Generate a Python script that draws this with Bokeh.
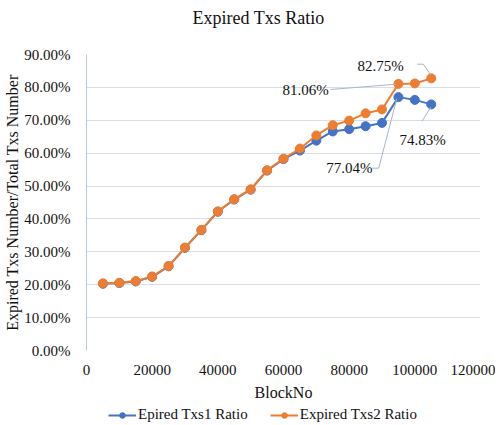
from bokeh.plotting import figure
from bokeh.layouts import column
from bokeh.models import (Range1d, NumeralTickFormatter, FixedTicker, Legend, LegendItem,
                          ColumnDataSource, LabelSet, Label)
from bokeh.core.properties import value
from bokeh.embed import file_html
from bokeh.resources import INLINE

# ---- data ----
block_no = [5000, 10000, 15000, 20000, 25000, 30000, 35000, 40000, 45000, 50000, 55000,
            60000, 65000, 70000, 75000, 80000, 85000, 90000, 95000, 100000, 105000]
ratio1 = [0.203, 0.205, 0.210, 0.224, 0.256, 0.312, 0.366, 0.422, 0.459, 0.489, 0.547,
          0.582, 0.608, 0.638, 0.666, 0.673, 0.682, 0.692, 0.7704, 0.762, 0.7483]
ratio2 = [0.204, 0.206, 0.211, 0.225, 0.257, 0.313, 0.367, 0.423, 0.460, 0.490, 0.548,
          0.583, 0.614, 0.654, 0.685, 0.699, 0.721, 0.733, 0.8106, 0.812, 0.8275]
series_names = ["Epired Txs1 Ratio", "Expired Txs2 Ratio"]
title_text = "Expired Txs Ratio"
x_label = "BlockNo"
y_label = "Expired Txs Number/Total Txs Number"
x_ticks = [0, 20000, 40000, 60000, 80000, 100000, 120000]
y_ticks = [0.0, 0.1, 0.2, 0.3, 0.4, 0.5, 0.6, 0.7, 0.8, 0.9]

# annotated points: (series, index), label offset (dx, dy), leader offsets
ann_series = [2, 2, 1, 1]
ann_index = [20, 18, 20, 18]
ann_dx = [-15450, -28300, -2600, -14900]
ann_dy = [0.038, -0.02, -0.107, -0.216]
lead_dx = [[-4300, -2400, -200], [-20700, -700], [-2800, -100], [-8000, -6000, -500]]
lead_dy = [[0.043, 0.043, 0.011], [-0.017, -0.001], [-0.051, -0.008], [-0.216, -0.216, -0.005]]

FONT = "Liberation Serif"
BLUE = "#4472C4"
ORANGE = "#ED7D31"
TXT = "#111111"
W = 495
FL, FR = 86, 480   # frame edges in page pixels (strips share the main frame's edges)

src = ColumnDataSource(dict(x=block_no, r1=ratio1, r2=ratio2))

# ---- title strip ----
pt = figure(width=W, height=34, output_backend="svg", toolbar_location=None,
            x_range=Range1d(FL, FR), y_range=Range1d(0, 34),
            x_axis_type=None, y_axis_type=None, min_border=0)
pt.outline_line_color = None
pt.add_layout(Label(x=258, y=17, text=title_text, text_align="center",
                    text_baseline="middle", text_font=FONT, text_font_size="18px",
                    text_color=TXT))

# ---- main chart ----
p = figure(frame_width=FR - FL, frame_height=296, output_backend="svg", toolbar_location=None,
           x_range=Range1d(0, 120000), y_range=Range1d(0, 0.9),
           min_border_left=FL, min_border_right=W - FR, min_border_top=20,
           min_border_bottom=0)
p.outline_line_color = None

p.xaxis.ticker = FixedTicker(ticks=x_ticks)
p.yaxis.ticker = FixedTicker(ticks=y_ticks)
p.yaxis.formatter = NumeralTickFormatter(format="0.00%")
p.xaxis.formatter = NumeralTickFormatter(format="0")
for ax in (p.xaxis, p.yaxis):
    ax.major_label_text_font = FONT
    ax.major_label_text_font_size = "15px"
    ax.major_label_text_color = TXT
    ax.axis_label_text_font = FONT
    ax.axis_label_text_font_size = "16px"
    ax.axis_label_text_font_style = "normal"
    ax.axis_label_text_color = TXT
    ax.major_tick_line_color = None
    ax.minor_tick_line_color = None
p.xaxis.axis_line_color = None
p.yaxis.axis_line_color = "#b8c7de"
p.xaxis.axis_label = x_label
p.yaxis.axis_label = y_label
p.xaxis.major_label_standoff = 8
p.yaxis.major_label_standoff = 10
p.xaxis.axis_label_standoff = 6
p.yaxis.axis_label_standoff = 0

p.xgrid.grid_line_color = None
p.ygrid.grid_line_color = "#d9dee6"
p.ygrid.grid_line_width = 1

p.line("x", "r1", source=src, line_color=BLUE, line_width=2)
p.scatter("x", "r1", source=src, size=9, fill_color=BLUE, line_color=BLUE)
p.line("x", "r2", source=src, line_color=ORANGE, line_width=2)
p.scatter("x", "r2", source=src, size=9, fill_color=ORANGE, line_color=ORANGE)

series = {1: ratio1, 2: ratio2}
lx, ly, lt, mxs, mys = [], [], [], [], []
for s, i, dx, dy, ldx, ldy in zip(ann_series, ann_index, ann_dx, ann_dy, lead_dx, lead_dy):
    px, py = block_no[i], series[s][i]
    lx.append(px + dx)
    ly.append(py + dy)
    lt.append("%.2f%%" % (py * 100))
    mxs.append([px + d for d in ldx])
    mys.append([py + d for d in ldy])
p.multi_line(mxs, mys, line_color="#a9b6c8", line_width=1)
lab_src = ColumnDataSource(dict(x=lx, y=ly, t=lt))
p.add_layout(LabelSet(x="x", y="y", text="t", source=lab_src, text_align="center",
                      text_baseline="middle", text_font=value(FONT),
                      text_font_size="15px", text_color=TXT))

# ---- legend strip (series drawn out of view, used only for the legend) ----
pl = figure(width=W, height=20, output_backend="svg", toolbar_location=None,
            x_range=Range1d(0, 1), y_range=Range1d(0, 1),
            x_axis_type=None, y_axis_type=None, min_border=0)
pl.outline_line_color = None
g1 = pl.line("x", "r1", source=src, line_color=BLUE, line_width=2)
m1 = pl.scatter("x", "r1", source=src, size=8, fill_color=BLUE, line_color=BLUE)
g2 = pl.line("x", "r2", source=src, line_color=ORANGE, line_width=2)
m2 = pl.scatter("x", "r2", source=src, size=8, fill_color=ORANGE, line_color=ORANGE)
legend = Legend(items=[LegendItem(label=series_names[0], renderers=[g1, m1]),
                       LegendItem(label=series_names[1], renderers=[g2, m2])],
                orientation="horizontal", location=(22, 0),
                label_text_font=FONT, label_text_font_size="15px",
                label_text_color=TXT, glyph_width=28, glyph_height=14,
                label_height=14, spacing=22, padding=0, margin=0,
                border_line_color=None, background_fill_alpha=0, label_standoff=2)
pl.add_layout(legend, "center")

open("out.html", "w").write(file_html(column(pt, p, pl, spacing=0), INLINE))
